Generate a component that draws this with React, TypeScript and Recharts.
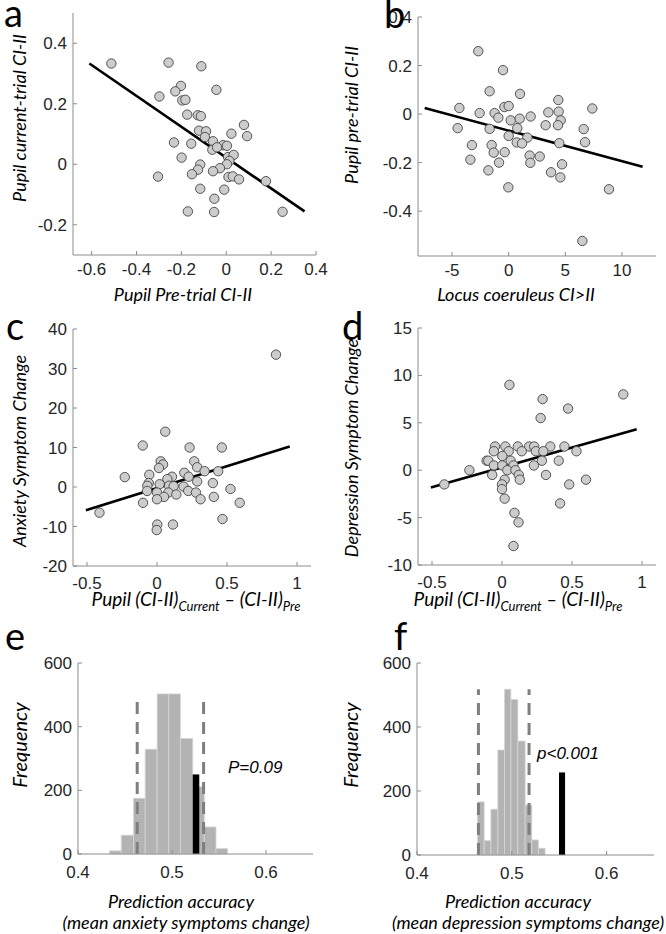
import React from "react";
import {
  ComposedChart,
  Scatter,
  XAxis,
  YAxis,
  ReferenceLine,
  ReferenceArea,
} from "recharts";

// a: pupil pre-trial vs current-trial (CI-II)
const aPreTrial = [
  -0.512, -0.257, -0.111, -0.202, -0.227, -0.044, -0.298, -0.196, -0.182, -0.174,
  -0.127, -0.113, 0.079, -0.121, -0.09, 0.023, 0.093, -0.095, -0.233, -0.156,
  -0.059, -0.014, 0.003, -0.062, -0.041, -0.199, 0.008, 0.033, 0.014, 0.003,
  -0.116, -0.126, -0.028, -0.059, -0.153, -0.304, 0.01, 0.029, 0.057, 0.177,
  -0.116, -0.009, -0.053, -0.171, -0.054, 0.251,
];
const aCurrentTrial = [
  0.333, 0.336, 0.324, 0.259, 0.241, 0.246, 0.224, 0.211, 0.213, 0.164,
  0.162, 0.159, 0.13, 0.111, 0.109, 0.101, 0.093, 0.09, 0.072, 0.068,
  0.076, 0.063, 0.061, 0.048, 0.056, 0.022, 0.024, 0.031, 0.011, 0,
  -0.001, -0.018, -0.013, -0.023, -0.033, -0.041, -0.042, -0.04, -0.05, -0.056,
  -0.081, -0.084, -0.114, -0.156, -0.158, -0.157,
];
const aFitX = [-0.61, 0.349];
const aFitY = [0.333, -0.156];

// b: locus coeruleus vs pupil pre-trial
const bLocusCoeruleus = [
  -2.68, -0.5, -1.68, 1.0, 4.38, -4.35, -0.38, 0, 7.38, -2.56,
  -1.24, -0.91, 3.5, 4.41, 0.18, 0.97, 1.94, 4.59, 3.26, 4.35,
  -4.5, -1.68, 0.76, 6.62, 0, 1.65, 0.71, 1.18, 4.47, 6.74,
  -3.24, -1.5, -1.32, -0.35, 1.85, 2.74, -3.38, -0.85, 1.91, 4.71,
  -1.79, 3.74, 4.56, -0.03, 8.85, 6.5,
];
const bPreTrial = [
  0.259, 0.181, 0.094, 0.083, 0.058, 0.025, 0.029, 0.033, 0.023, 0.004,
  0.004, -0.015, 0.007, 0.01, -0.026, -0.019, -0.01, -0.026, -0.046, -0.046,
  -0.058, -0.061, -0.058, -0.062, -0.09, -0.097, -0.117, -0.121, -0.12, -0.116,
  -0.128, -0.128, -0.159, -0.157, -0.171, -0.175, -0.188, -0.2, -0.201, -0.207,
  -0.232, -0.24, -0.261, -0.302, -0.31, -0.523,
];
const bFitX = [-7.41, 11.82];
const bFitY = [0.025, -0.217];

// c: pupil change vs anxiety change
const cPupilDiff = [
  0.85, 0.059, -0.102, 0.233, 0.463, 0.026, 0.043, 0.266, 0.014, 0.287,
  0.34, 0.437, -0.23, -0.055, 0.195, 0.107, 0.074, 0.226, 0.287, 0.399,
  -0.059, -0.069, 0.019, 0.086, 0.119, 0.19, 0.525, -0.071, 0, 0.081,
  0.138, 0.223, 0.278, 0.406, 0.05, 0, 0.311, -0.1, 0.591, -0.411,
  0.468, 0.002, 0.114, -0.002,
];
const cAnxietyChange = [
  33.5, 14, 10.5, 10, 10, 6.5, 5.7, 6.5, 4.8, 5,
  4, 4, 2.5, 3.1, 3.6, 2.6, 2, 2.6, 1.4, 1,
  1, 0.3, 0.7, 0.3, 0.2, 0.1, -0.5, -1, -1.4, -1.4,
  -1.9, -1, -1.4, -2.5, -2.5, -3.1, -3.1, -4, -4, -6.5,
  -8.1, -9.5, -9.5, -10.9,
];
const cFitX = [-0.508, 0.948];
const cFitY = [-5.9, 10.25];

// d: pupil change vs depression change
const dPupilDiff = [
  0.053, 0.866, 0.29, 0.472, 0.276, -0.05, 0.024, 0.113, 0.194, 0.23,
  0.345, 0.446, -0.058, 0.048, 0.141, 0.242, 0.295, 0.532, 0.002, 0.062,
  -0.11, -0.098, 0.285, 0.405, -0.058, 0.002, 0.082, 0.228, -0.233, 0.038,
  0.096, -0.07, 0.12, 0.314, 0.019, 0.127, 0.6, -0.412, 0, 0.48,
  0, 0.019, 0.415, 0.089, 0.118, 0.082,
];
const dDepressionChange = [
  9, 8, 7.5, 6.5, 5.5, 2.5, 2.5, 2.5, 2.5, 2.5,
  2.5, 2.5, 2, 2, 2, 2, 2, 2, 1.5, 1,
  1, 1, 1, 1, 0.5, 0.5, 0.5, 0.5, 0, 0,
  0, -0.5, -0.5, -0.5, -1, -1, -1, -1.5, -1.5, -1.5,
  -2, -3, -3.5, -4.5, -5.5, -8,
];
const dFitX = [-0.508, 0.962];
const dFitY = [-1.82, 4.32];

// e/f: permutation histograms of prediction accuracy
const eBinEdges = [0.4336, 0.446, 0.4591, 0.4715, 0.4842, 0.4965, 0.5089, 0.522, 0.5344, 0.5468, 0.5591];
const eCounts = [10, 59, 175, 329, 503, 503, 363, 211, 85, 17];
const eActualBar = [0.522, 0.529];
const eActualCount = 250;
const eCI = [0.463, 0.5336];

const fBinEdges = [0.4638, 0.4709, 0.4779, 0.4853, 0.4923, 0.499, 0.5064, 0.5141, 0.5211, 0.5281, 0.5351];
const fCounts = [166, 45, 143, 328, 518, 486, 356, 156, 47, 21];
const fActualBar = [0.5498, 0.5562];
const fActualCount = 258;
const fCI = [0.4648, 0.5182];

const histXTicks = [0.4, 0.5, 0.6];
const histYTicks = [0, 200, 400, 600];

const PAD_L = 70;
const PAD_T = 10;
const PAD_R = 20;
const PAD_B = 35;

const AXIS_GRAY = "#8c8c8c";
const TICK_FAMILY = "'Liberation Sans', Arial, sans-serif";
const LABEL_FONT = "Lato, 'Open Sans', sans-serif";
const LABEL_SIZE = 18;

type Box = { x: number; y: number; w: number; h: number };

const XTick = (p: any) => (
  <text x={p.x} y={p.y} dy={13} textAnchor="middle" fontSize={17} fontFamily={TICK_FAMILY} fill="#262626">
    {String(p.payload.value)}
  </text>
);

const YTick = (p: any) => (
  <text x={p.x} y={p.y} dy={6} textAnchor="end" fontSize={17} fontFamily={TICK_FAMILY} fill="#262626">
    {String(p.payload.value)}
  </text>
);

const Marker = (props: any) => (
  <circle cx={props.cx} cy={props.cy} r={4.7} fill="#cccccc" stroke="#444" strokeWidth={0.9} />
);

function ScatterPanel(props: {
  box: Box;
  xDomain: number[];
  yDomain: number[];
  xTicks: number[];
  yTicks: number[];
  xs: number[];
  ys: number[];
  fitX: number[];
  fitY: number[];
  xGap: number;
}) {
  const { box, xDomain, yDomain, xTicks, yTicks, xs, ys, fitX, fitY, xGap } = props;
  const data = xs.map((x, i) => ({ x, y: ys[i] }));
  return (
    <div style={{ position: "absolute", left: box.x - PAD_L, top: box.y - PAD_T }}>
      <ComposedChart
        width={box.w + PAD_L + PAD_R}
        height={box.h + PAD_T + PAD_B}
        margin={{ top: PAD_T, right: PAD_R, bottom: 0, left: 0 }}
      >
        <XAxis
          type="number"
          dataKey="x"
          domain={xDomain}
          ticks={xTicks}
          interval={0}
          allowDataOverflow
          height={PAD_B}
          stroke={AXIS_GRAY}
          tickSize={-4}
          tickMargin={xGap}
          tick={XTick}
        />
        <XAxis
          xAxisId="top"
          orientation="top"
          type="number"
          domain={xDomain}
          ticks={xTicks}
          interval={0}
          allowDataOverflow
          height={0}
          stroke={AXIS_GRAY}
          tickSize={-4}
          tick={false}
        />
        <YAxis
          type="number"
          dataKey="y"
          domain={yDomain}
          ticks={yTicks}
          interval={0}
          allowDataOverflow
          width={PAD_L}
          stroke={AXIS_GRAY}
          tickSize={-4}
          tickMargin={10}
          tick={YTick}
        />
        <YAxis
          yAxisId="right"
          orientation="right"
          type="number"
          domain={yDomain}
          ticks={yTicks}
          interval={0}
          allowDataOverflow
          width={0}
          stroke={AXIS_GRAY}
          tickSize={-4}
          tick={false}
        />
        <Scatter data={data} shape={Marker} isAnimationActive={false} />
        <ReferenceLine
          segment={[
            { x: fitX[0], y: fitY[0] },
            { x: fitX[1], y: fitY[1] },
          ]}
          stroke="#000"
          strokeWidth={2.6}
        />
      </ComposedChart>
    </div>
  );
}

function HistPanel(props: {
  box: Box;
  edges: number[];
  counts: number[];
  actual: number[];
  actualCount: number;
  ci: number[];
}) {
  const { box, edges, counts, actual, actualCount, ci } = props;
  const peak = Math.max(...counts);
  return (
    <div style={{ position: "absolute", left: box.x - PAD_L, top: box.y - PAD_T }}>
      <ComposedChart
        width={box.w + PAD_L + PAD_R}
        height={box.h + PAD_T + PAD_B}
        margin={{ top: PAD_T, right: PAD_R, bottom: 0, left: 0 }}
      >
        <XAxis
          type="number"
          dataKey="x"
          domain={[0.4, 0.65]}
          ticks={histXTicks}
          interval={0}
          allowDataOverflow
          height={PAD_B}
          stroke={AXIS_GRAY}
          tickSize={-4}
          tickMargin={15}
          tick={XTick}
        />
        <YAxis
          type="number"
          domain={[0, 600]}
          ticks={histYTicks}
          interval={0}
          allowDataOverflow
          width={PAD_L}
          stroke={AXIS_GRAY}
          tickSize={-4}
          tickMargin={10}
          tick={YTick}
        />
        {counts.map((c, i) => (
          <ReferenceArea
            key={i}
            x1={edges[i]}
            x2={edges[i + 1]}
            y1={0}
            y2={c}
            fill="#b3b3b3"
            fillOpacity={1}
            stroke="#d6d6d6"
            strokeWidth={0.8}
          />
        ))}
        <ReferenceArea
          x1={actual[0]}
          x2={actual[1]}
          y1={0}
          y2={actualCount}
          fill="#000"
          fillOpacity={1}
          stroke="none"
        />
        {ci.map((x, i) => (
          <ReferenceLine
            key={"ci" + i}
            segment={[
              { x, y: 0 },
              { x, y: peak },
            ]}
            stroke="#7f7f7f"
            strokeWidth={3}
            strokeDasharray="12 8"
          />
        ))}
      </ComposedChart>
    </div>
  );
}

function SubLabel({ x, y }: { x: number; y: number }) {
  return (
    <text x={x} y={y} textAnchor="middle" fontFamily={LABEL_FONT} fontStyle="italic" fontSize={19} fill="#000">
      Pupil (CI-II)
      <tspan fontSize={13} dy={5}>Current</tspan>
      <tspan dy={-5}> – (CI-II)</tspan>
      <tspan fontSize={13} dy={5}>Pre</tspan>
    </text>
  );
}

function YLabel({ x, y, text, size = LABEL_SIZE }: { x: number; y: number; text: string; size?: number }) {
  return (
    <text
      transform={`translate(${x},${y}) rotate(-90)`}
      textAnchor="middle"
      fontFamily={LABEL_FONT}
      fontStyle="italic"
      fontSize={size}
      fill="#000"
    >
      {text}
    </text>
  );
}

function XLabel({ x, y, text }: { x: number; y: number; text: string }) {
  return (
    <text x={x} y={y} textAnchor="middle" fontFamily={LABEL_FONT} fontStyle="italic" fontSize={LABEL_SIZE} fill="#000">
      {text}
    </text>
  );
}

const letterStyle = { fontFamily: LABEL_FONT, fontSize: 38, fill: "#000" };

export default function App() {
  return (
    <div
      style={{
        position: "absolute",
        left: 0,
        top: 0,
        width: 666,
        height: 934,
        background: "#fff",
        overflow: "hidden",
      }}
    >
      <ScatterPanel
        box={{ x: 73, y: 13, w: 243, h: 242 }}
        xDomain={[-0.683, 0.4]}
        yDomain={[-0.3, 0.5]}
        xTicks={[-0.6, -0.4, -0.2, 0, 0.2, 0.4]}
        yTicks={[-0.2, 0, 0.2, 0.4]}
        xs={aPreTrial}
        ys={aCurrentTrial}
        fitX={aFitX}
        fitY={aFitY}
        xGap={11}
      />
      <ScatterPanel
        box={{ x: 418, y: 17, w: 238, h: 239 }}
        xDomain={[-8, 13]}
        yDomain={[-0.585, 0.4]}
        xTicks={[-5, 0, 5, 10]}
        yTicks={[-0.4, -0.2, 0, 0.2, 0.4]}
        xs={bLocusCoeruleus}
        ys={bPreTrial}
        fitX={bFitX}
        fitY={bFitY}
        xGap={11}
      />
      <ScatterPanel
        box={{ x: 73, y: 329, w: 238, h: 237 }}
        xDomain={[-0.6, 1.1]}
        yDomain={[-20, 40]}
        xTicks={[-0.5, 0, 0.5, 1]}
        yTicks={[-20, -10, 0, 10, 20, 30, 40]}
        xs={cPupilDiff}
        ys={cAnxietyChange}
        fitX={cFitX}
        fitY={cFitY}
        xGap={14}
      />
      <ScatterPanel
        box={{ x: 418, y: 328, w: 238, h: 237 }}
        xDomain={[-0.6, 1.1]}
        yDomain={[-10, 15]}
        xTicks={[-0.5, 0, 0.5, 1]}
        yTicks={[-10, -5, 0, 5, 10, 15]}
        xs={dPupilDiff}
        ys={dDepressionChange}
        fitX={dFitX}
        fitY={dFitY}
        xGap={14}
      />
      <HistPanel
        box={{ x: 78, y: 663, w: 235, h: 191 }}
        edges={eBinEdges}
        counts={eCounts}
        actual={eActualBar}
        actualCount={eActualCount}
        ci={eCI}
      />
      <HistPanel
        box={{ x: 417, y: 663, w: 237, h: 192 }}
        edges={fBinEdges}
        counts={fCounts}
        actual={fActualBar}
        actualCount={fActualCount}
        ci={fCI}
      />

      <svg
        width={666}
        height={934}
        style={{ position: "absolute", left: 0, top: 0, pointerEvents: "none" }}
      >
        <text x={4} y={27} {...letterStyle}>a</text>
        <text x={384} y={28} {...letterStyle}>b</text>
        <text x={6} y={340} {...letterStyle}>c</text>
        <text x={342} y={340} {...letterStyle}>d</text>
        <text x={5} y={650} {...letterStyle}>e</text>
        <text x={394} y={650} {...letterStyle}>f</text>

        <YLabel x={26} y={118} text="Pupil current-trial CI-II" />
        <XLabel x={183} y={301} text="Pupil Pre-trial CI-II" />
        <YLabel x={358} y={115} text="Pupil pre-trial CI-II" />
        <XLabel x={516} y={301} text="Locus coeruleus CI>II" />

        <YLabel x={26} y={451} text="Anxiety Symptom Change" />
        <SubLabel x={196} y={606} />
        <YLabel x={358} y={448} text="Depression Symptom Change" />
        <SubLabel x={518} y={606} />

        <YLabel x={27} y={745} text="Frequency" size={20} />
        <XLabel x={181} y={908} text="Prediction accuracy" />
        <XLabel x={186} y={929} text="(mean anxiety symptoms change)" />
        <text x={228} y={773} fontFamily={TICK_FAMILY} fontStyle="italic" fontSize={17}>
          P=0.09
        </text>

        <YLabel x={358} y={745} text="Frequency" size={20} />
        <XLabel x={518} y={908} text="Prediction accuracy" />
        <XLabel x={528} y={929} text="(mean depression symptoms change)" />
        <text x={537} y={759} fontFamily={TICK_FAMILY} fontStyle="italic" fontSize={17}>
          p&lt;0.001
        </text>
      </svg>
    </div>
  );
}
